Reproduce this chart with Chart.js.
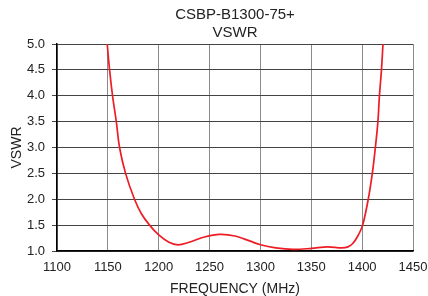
<!DOCTYPE html>
<html>
<head>
<meta charset="utf-8">
<script src="https://cdn.jsdelivr.net/npm/chart.js@4/dist/chart.umd.min.js"></script>
<style>
  html, body { margin: 0; padding: 0; background: #fff; }
  #wrap { width: 428px; height: 296px; }
</style>
</head>
<body>
<div id="wrap"><canvas id="c" width="428" height="296"></canvas></div>
<script>
// frequency points (MHz)
const freq = [1148.5, 1149.4, 1151.7, 1154.6, 1158.3, 1161.5, 1167.4, 1176.2, 1183, 1191, 1200, 1210, 1219, 1230, 1245, 1260, 1275, 1290, 1300, 1315, 1332, 1350, 1366, 1380, 1386, 1391, 1396, 1400.5, 1406, 1410, 1413, 1415.5, 1417, 1419, 1420.5, 1421.5];
const vswr = [5.3, 5.0, 4.5, 4.0, 3.5, 3.0, 2.5, 2.0, 1.72, 1.5, 1.31, 1.17, 1.12, 1.17, 1.27, 1.32, 1.29, 1.19, 1.12, 1.06, 1.03, 1.05, 1.08, 1.06, 1.08, 1.15, 1.3, 1.5, 2.0, 2.5, 3.0, 3.5, 4.0, 4.5, 5.0, 5.3];
const titleLines = ['CSBP-B1300-75+', 'VSWR'];
const xTicks = [1100, 1150, 1200, 1250, 1300, 1350, 1400, 1450];
const yTicks = [1.0, 1.5, 2.0, 2.5, 3.0, 3.5, 4.0, 4.5, 5.0];

const font = 'Liberation Sans, Arial, sans-serif';

// title centred over the plot area rather than the whole canvas
const plotTitle = {
  id: 'plotTitle',
  afterDraw(chart) {
    const ctx = chart.ctx, a = chart.chartArea;
    const cx = (a.left + a.right) / 2;
    ctx.save();
    ctx.fillStyle = '#222';
    ctx.font = '15px ' + font;
    ctx.textAlign = 'center';
    ctx.textBaseline = 'middle';
    ctx.fillText(titleLines[0], cx, 15);
    ctx.fillText(titleLines[1], cx, 33);
    ctx.restore();
  }
};

new Chart(document.getElementById('c'), {
  type: 'line',
  data: {
    datasets: [{
      data: freq.map((f, i) => ({ x: f, y: vswr[i] })),
      borderColor: '#ee1c25',
      borderWidth: 1.7,
      pointRadius: 0,
      tension: 0.35,
      fill: false
    }]
  },
  options: {
    responsive: false,
    animation: false,
    layout: { padding: { top: 44, right: 0, left: 0, bottom: 0 } },
    plugins: { legend: { display: false }, tooltip: { enabled: false } },
    scales: {
      x: {
        type: 'linear',
        min: 1100, max: 1450,
        afterBuildTicks: s => { s.ticks = xTicks.map(v => ({ value: v })); },
        afterFit: s => { s.height = 45; s.paddingRight = 15; s.paddingLeft = 0; },
        ticks: { color: '#222', font: { family: font, size: 13 }, padding: 9, maxRotation: 0, callback: v => String(v) },
        grid: { color: '#8a8a8a', lineWidth: 1, drawTicks: false },
        border: { color: '#000', width: 1.5 },
        title: { display: true, text: 'FREQUENCY (MHz)', color: '#222', font: { family: font, size: 14, lineHeight: 1 }, padding: 0 }
      },
      y: {
        min: 1.0, max: 5.0,
        afterBuildTicks: s => { s.ticks = yTicks.map(v => ({ value: v })); },
        afterFit: s => { s.width = 57; },
        ticks: { color: '#222', font: { family: font, size: 13 }, padding: 7, callback: v => Number(v).toFixed(1) },
        grid: { color: '#444', lineWidth: 1, tickLength: 5 },
        border: { color: '#000', width: 1.5 },
        title: { display: true, text: 'VSWR', color: '#222', font: { family: font, size: 14, lineHeight: 1 }, padding: { top: 10, bottom: 0 } }
      }
    }
  },
  plugins: [plotTitle]
});
</script>
</body>
</html>
